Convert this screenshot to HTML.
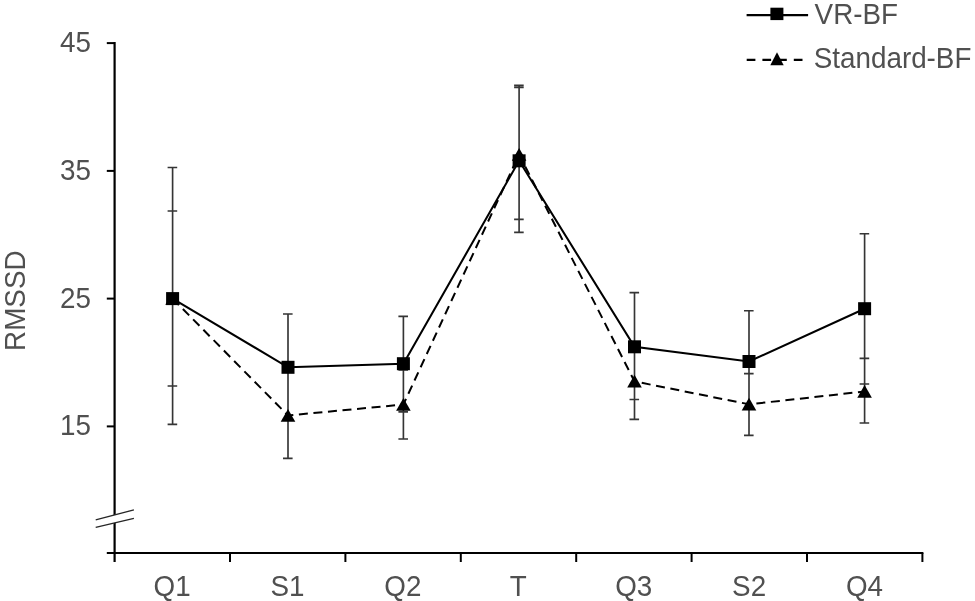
<!DOCTYPE html>
<html><head><meta charset="utf-8"><title>RMSSD chart</title>
<style>
html,body{margin:0;padding:0;background:#fff;}
body{width:975px;height:601px;overflow:hidden;}
svg{display:block;}
text{font-family:"Liberation Sans",sans-serif;fill:#505050;}
</style></head><body>
<svg width="975" height="601" viewBox="0 0 975 601">
<rect width="975" height="601" fill="#fff"/>

<g stroke="#000" stroke-width="2" fill="none">
<line x1="114.6" y1="42.1" x2="114.6" y2="562" stroke-width="2.2"/>
<line x1="106.8" y1="553" x2="923.4" y2="553"/>
<line x1="106.8" y1="43.1" x2="114.3" y2="43.1"/>
<line x1="106.8" y1="170.9" x2="114.3" y2="170.9"/>
<line x1="106.8" y1="298.6" x2="114.3" y2="298.6"/>
<line x1="106.8" y1="426.4" x2="114.3" y2="426.4"/>
<line x1="230.0" y1="553" x2="230.0" y2="562"/>
<line x1="345.4" y1="553" x2="345.4" y2="562"/>
<line x1="460.8" y1="553" x2="460.8" y2="562"/>
<line x1="576.2" y1="553" x2="576.2" y2="562"/>
<line x1="691.6" y1="553" x2="691.6" y2="562"/>
<line x1="807.0" y1="553" x2="807.0" y2="562"/>
<line x1="922.4" y1="553" x2="922.4" y2="562"/>
</g>
<polygon points="95.7,519.9 133.9,509.8 133.9,518.4 95.7,527.3" fill="#fff"/>
<g stroke="#262626" stroke-width="1.3"><line x1="95.7" y1="519.9" x2="133.9" y2="509.8"/><line x1="95.7" y1="527.3" x2="133.9" y2="518.4"/></g>
<g stroke="#353535" stroke-width="1.65" fill="none">
<path d="M172.6 167.5V424.3M167.6 167.5H177.2M167.6 424.3H177.2M167.6 211H177.2M167.6 386H177.2"/>
<path d="M288.0 314V458.3M283.0 314H292.6M283.0 420H292.6M283.0 372H292.6M283.0 458.3H292.6"/>
<path d="M403.4 316.3V439M398.4 316.3H408.0M398.4 411.8H408.0M398.4 370H408.0M398.4 439H408.0"/>
<path d="M519.1 85.4V232.3M514.1 85.4H523.7M514.1 232.3H523.7M514.1 87.4H523.7M514.1 219.3H523.7"/>
<path d="M634.5 292.6V419.4M629.5 292.6H639.1M629.5 399.5H639.1M629.5 343H639.1M629.5 419.4H639.1"/>
<path d="M749.0 310.7V435.4M744.0 310.7H753.6M744.0 409H753.6M744.0 373.6H753.6M744.0 435.4H753.6"/>
<path d="M864.6 233.7V423M859.6 233.7H869.2M859.6 384H869.2M859.6 358.4H869.2M859.6 423H869.2"/>
</g>
<polyline points="172.6,298.6 288.0,415.5 403.4,404.5 519.1,154.5 634.5,381.4 749.0,404.3 864.6,391.5" fill="none" stroke="#000" stroke-width="2" stroke-dasharray="9 5.6"/>
<polyline points="172.6,298.6 288.0,367.3 403.4,363.7 519.1,160.8 634.5,346.8 749.0,361.5 864.6,308.7" fill="none" stroke="#000" stroke-width="2.05"/>
<polygon points="172.6,292.0 179.9,304.8 165.29999999999998,304.8" fill="#000"/>
<polygon points="288.0,408.9 295.3,421.7 280.7,421.7" fill="#000"/>
<polygon points="403.4,397.9 410.7,410.7 396.09999999999997,410.7" fill="#000"/>
<polygon points="519.1,147.9 526.4,160.7 511.8,160.7" fill="#000"/>
<polygon points="634.5,374.79999999999995 641.8,387.59999999999997 627.2,387.59999999999997" fill="#000"/>
<polygon points="749.0,397.7 756.3,410.5 741.7,410.5" fill="#000"/>
<polygon points="864.6,384.9 871.9,397.7 857.3000000000001,397.7" fill="#000"/>
<rect x="166.1" y="292.1" width="13" height="13" fill="#000"/>
<rect x="281.5" y="360.8" width="13" height="13" fill="#000"/>
<rect x="396.9" y="357.2" width="13" height="13" fill="#000"/>
<rect x="512.6" y="154.3" width="13" height="13" fill="#000"/>
<rect x="628.0" y="340.3" width="13" height="13" fill="#000"/>
<rect x="742.5" y="355.0" width="13" height="13" fill="#000"/>
<rect x="858.1" y="302.2" width="13" height="13" fill="#000"/>
<line x1="746.6" y1="15.1" x2="808.1" y2="15.1" stroke="#000" stroke-width="2.3"/>
<rect x="770.4" y="7.7" width="13" height="12.4" fill="#000"/>
<line x1="746.7" y1="59.9" x2="802.6" y2="59.9" stroke="#000" stroke-width="2.3" stroke-dasharray="8.7 7"/>
<polygon points="777,52.2 783.7,65.2 770.3,65.2" fill="#000"/>
<text transform="translate(814.6,23.9) scale(0.9653,1)" font-size="28.8" text-anchor="start">VR-BF</text>
<text transform="translate(813.8,68.2) scale(0.9653,1)" font-size="28.8" text-anchor="start">Standard-BF</text>
<text transform="translate(90.9,51.7) scale(0.9653,1)" font-size="28.8" text-anchor="end">45</text>
<text transform="translate(90.9,179.6) scale(0.9653,1)" font-size="28.8" text-anchor="end">35</text>
<text transform="translate(90.9,307.5) scale(0.9653,1)" font-size="28.8" text-anchor="end">25</text>
<text transform="translate(90.9,435.4) scale(0.9653,1)" font-size="28.8" text-anchor="end">15</text>
<text transform="translate(172.1,595.7) scale(0.9653,1)" font-size="28.8" text-anchor="middle">Q1</text>
<text transform="translate(287.5,595.7) scale(0.9653,1)" font-size="28.8" text-anchor="middle">S1</text>
<text transform="translate(402.9,595.7) scale(0.9653,1)" font-size="28.8" text-anchor="middle">Q2</text>
<text transform="translate(518.3,595.7) scale(0.9653,1)" font-size="28.8" text-anchor="middle">T</text>
<text transform="translate(633.7,595.7) scale(0.9653,1)" font-size="28.8" text-anchor="middle">Q3</text>
<text transform="translate(749.1,595.7) scale(0.9653,1)" font-size="28.8" text-anchor="middle">S2</text>
<text transform="translate(864.5,595.7) scale(0.9653,1)" font-size="28.8" text-anchor="middle">Q4</text>
<text transform="translate(24.6,300.7) rotate(-90) scale(0.9653,1)" font-size="28.8" text-anchor="middle">RMSSD</text>
</svg></body></html>
